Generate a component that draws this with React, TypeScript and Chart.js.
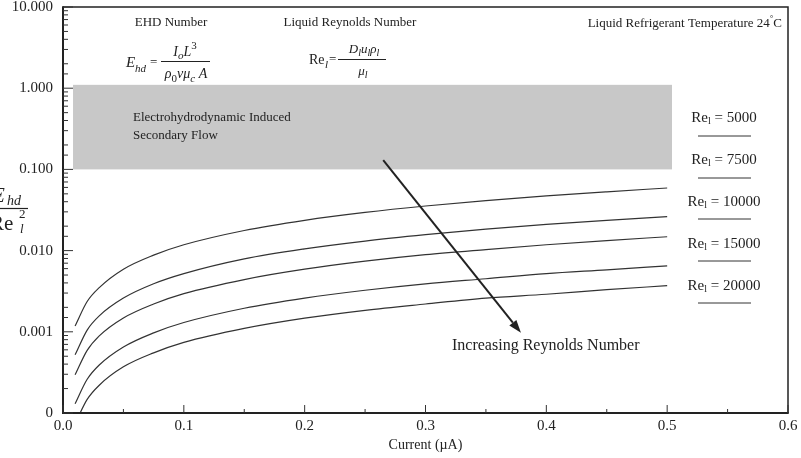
import React, { useEffect, useRef } from "react";
import { Chart, registerables } from "chart.js";

Chart.register(...registerables);

// ---- data ----
const currentUA = [0.01, 0.02, 0.03, 0.05, 0.075, 0.1, 0.15, 0.2, 0.25, 0.3, 0.35, 0.4, 0.45, 0.5];
const re5000 = [0.00118, 0.00236, 0.0035, 0.0059, 0.0088, 0.0118, 0.0177, 0.0236, 0.0295, 0.0354, 0.0413, 0.0472, 0.053, 0.059];
const re7500 = [0.00052, 0.00105, 0.00157, 0.0026, 0.0039, 0.0052, 0.0079, 0.0105, 0.0131, 0.0157, 0.0184, 0.021, 0.0236, 0.0262];
const re10000 = [0.000295, 0.00059, 0.00089, 0.00148, 0.0022, 0.00295, 0.0044, 0.0059, 0.0074, 0.0089, 0.0103, 0.0118, 0.0133, 0.0148];
const re15000 = [0.00013, 0.00026, 0.00039, 0.00065, 0.00097, 0.0013, 0.00195, 0.0026, 0.00325, 0.0039, 0.0045, 0.0052, 0.0058, 0.0065];
const re20000 = [0.000074, 0.000147, 0.00022, 0.00037, 0.00055, 0.00074, 0.0011, 0.00147, 0.00184, 0.0022, 0.0026, 0.0029, 0.0033, 0.0037];
const reynoldsLabels = ["5000", "7500", "10000", "15000", "20000"];
const seriesValues = [re5000, re7500, re10000, re15000, re20000];

const xMin = 0;
const xMax = 0.6;
const xStep = 0.1;
const yMin = 0.0001;
const yMax = 10;

// shaded EHD-induced secondary flow region (x range, y range)
const shadedX = [0.0083, 0.504];
const shadedY = [0.1, 1.1];
// arrow "Increasing Reynolds Number" (start, end)
const arrowX = [0.265, 0.379];
const arrowY = [0.13, 0.00097];

const SERIF = "'Liberation Serif', 'Times New Roman', serif";
const TEXT = "#222";

type Part = { t: string; size: number; italic?: boolean; dy?: number };

function partsWidth(ctx: CanvasRenderingContext2D, parts: Part[]) {
  let w = 0;
  for (const p of parts) {
    ctx.font = `${p.italic ? "italic " : ""}${p.size}px ${SERIF}`;
    w += ctx.measureText(p.t).width;
  }
  return w;
}

function drawParts(
  ctx: CanvasRenderingContext2D,
  x: number,
  baseline: number,
  parts: Part[],
  align: "left" | "center" | "right" = "left"
) {
  const w = partsWidth(ctx, parts);
  let cx = align === "left" ? x : align === "center" ? x - w / 2 : x - w;
  ctx.textAlign = "left";
  ctx.textBaseline = "alphabetic";
  for (const p of parts) {
    ctx.font = `${p.italic ? "italic " : ""}${p.size}px ${SERIF}`;
    ctx.fillText(p.t, cx, baseline + (p.dy || 0));
    cx += ctx.measureText(p.t).width;
  }
}

function isDecade(v: number) {
  const l = Math.log10(v);
  return Math.abs(l - Math.round(l)) < 1e-6;
}

const annotationPlugin = {
  id: "annotations",
  beforeDatasetsDraw(chart: any) {
    const { ctx, scales } = chart;
    const xs = scales.x;
    const ys = scales.y;
    ctx.save();
    ctx.fillStyle = "#c8c8c8";
    const x0 = xs.getPixelForValue(shadedX[0]);
    const x1 = xs.getPixelForValue(shadedX[1]);
    const y0 = ys.getPixelForValue(shadedY[1]);
    const y1 = ys.getPixelForValue(shadedY[0]);
    ctx.fillRect(x0, y0, x1 - x0, y1 - y0);
    ctx.fillStyle = TEXT;
    ctx.font = `13px ${SERIF}`;
    ctx.textAlign = "left";
    ctx.textBaseline = "middle";
    ctx.fillText("Electrohydrodynamic Induced", 133, 118);
    ctx.fillText("Secondary Flow", 133, 136);
    ctx.restore();
  },
  afterDatasetsDraw(chart: any) {
    const { ctx, scales, chartArea } = chart;
    const xs = scales.x;
    const ys = scales.y;
    ctx.save();

    // frame
    ctx.strokeStyle = "#222";
    ctx.lineWidth = 1.5;
    ctx.beginPath();
    ctx.moveTo(chartArea.left, chartArea.top);
    ctx.lineTo(chartArea.right, chartArea.top);
    ctx.lineTo(chartArea.right, chartArea.bottom);
    ctx.stroke();
    ctx.lineWidth = 2;
    ctx.beginPath();
    ctx.moveTo(chartArea.left, chartArea.top - 0.75);
    ctx.lineTo(chartArea.left, chartArea.bottom);
    ctx.lineTo(chartArea.right + 0.75, chartArea.bottom);
    ctx.stroke();

    // inward tick marks
    ctx.lineWidth = 1;
    ctx.strokeStyle = "#333";
    for (const t of ys.ticks) {
      const py = ys.getPixelForValue(t.value);
      const len = isDecade(t.value) ? 10 : 5;
      ctx.beginPath();
      ctx.moveTo(chartArea.left, py);
      ctx.lineTo(chartArea.left + len, py);
      ctx.stroke();
    }
    for (let v = xMin; v <= xMax + 1e-9; v += xStep / 2) {
      const px = xs.getPixelForValue(v);
      const major = Math.abs(v / xStep - Math.round(v / xStep)) < 1e-6;
      const len = major ? 8 : 4;
      ctx.beginPath();
      ctx.moveTo(px, chartArea.bottom);
      ctx.lineTo(px, chartArea.bottom - len);
      ctx.stroke();
    }

    // arrow
    const ax0 = xs.getPixelForValue(arrowX[0]);
    const ay0 = ys.getPixelForValue(arrowY[0]);
    const ax1 = xs.getPixelForValue(arrowX[1]);
    const ay1 = ys.getPixelForValue(arrowY[1]);
    const ang = Math.atan2(ay1 - ay0, ax1 - ax0);
    const head = 13;
    const hw = 4.5;
    const bx = ax1 - head * Math.cos(ang);
    const by = ay1 - head * Math.sin(ang);
    ctx.strokeStyle = "#222";
    ctx.fillStyle = "#222";
    ctx.lineWidth = 2;
    ctx.beginPath();
    ctx.moveTo(ax0, ay0);
    ctx.lineTo(bx, by);
    ctx.stroke();
    ctx.beginPath();
    ctx.moveTo(ax1, ay1);
    ctx.lineTo(bx + hw * Math.sin(ang), by - hw * Math.cos(ang));
    ctx.lineTo(bx - hw * Math.sin(ang), by + hw * Math.cos(ang));
    ctx.closePath();
    ctx.fill();

    ctx.fillStyle = TEXT;
    ctx.font = `16px ${SERIF}`;
    ctx.textAlign = "left";
    ctx.textBaseline = "middle";
    ctx.fillText("Increasing Reynolds Number", 452, 346);

    // header texts
    ctx.font = `13px ${SERIF}`;
    ctx.textAlign = "center";
    ctx.fillText("EHD Number", 171, 23);
    ctx.fillText("Liquid Reynolds Number", 350, 23);
    drawParts(
      ctx,
      782,
      27,
      [
        { t: "Liquid Refrigerant Temperature 24", size: 13 },
        { t: "°", size: 9, dy: -6 },
        { t: "C", size: 13 },
      ],
      "right"
    );

    // EHD formula
    drawParts(ctx, 126, 67, [{ t: "E", size: 15, italic: true }]);
    drawParts(ctx, 135, 72, [{ t: "hd", size: 11, italic: true }]);
    drawParts(ctx, 150, 66, [{ t: "=", size: 13 }]);
    ctx.strokeStyle = "#222";
    ctx.lineWidth = 1;
    ctx.beginPath();
    ctx.moveTo(161, 61.5);
    ctx.lineTo(210, 61.5);
    ctx.stroke();
    drawParts(
      ctx,
      185,
      56,
      [
        { t: "I", size: 14, italic: true },
        { t: "o", size: 11, italic: true, dy: 3 },
        { t: "L", size: 14, italic: true },
        { t: "3", size: 11, dy: -7 },
      ],
      "center"
    );
    drawParts(
      ctx,
      186,
      78,
      [
        { t: "ρ", size: 14, italic: true },
        { t: "0", size: 11, dy: 4 },
        { t: "ν", size: 14, italic: true },
        { t: "μ", size: 14, italic: true },
        { t: "c", size: 11, italic: true, dy: 4 },
        { t: " A", size: 14, italic: true },
      ],
      "center"
    );

    // Reynolds formula
    drawParts(ctx, 309, 64, [{ t: "Re", size: 14 }]);
    drawParts(ctx, 325, 68, [{ t: "l", size: 11, italic: true }]);
    drawParts(ctx, 329, 63, [{ t: "=", size: 13 }]);
    ctx.beginPath();
    ctx.moveTo(338, 59.5);
    ctx.lineTo(386, 59.5);
    ctx.stroke();
    drawParts(
      ctx,
      364,
      53,
      [
        { t: "D", size: 13, italic: true },
        { t: "l", size: 10, italic: true, dy: 3 },
        { t: "u", size: 13, italic: true },
        { t: "l", size: 10, italic: true, dy: 3 },
        { t: "ρ", size: 13, italic: true },
        { t: "l", size: 10, italic: true, dy: 3 },
      ],
      "center"
    );
    drawParts(
      ctx,
      363,
      75,
      [
        { t: "μ", size: 13, italic: true },
        { t: "l", size: 10, italic: true, dy: 3 },
      ],
      "center"
    );

    // y-axis title (fraction, clipped at the left edge)
    drawParts(ctx, -8, 202, [{ t: "E", size: 21, italic: true }]);
    drawParts(ctx, 7, 205, [{ t: "hd", size: 14, italic: true }]);
    ctx.lineWidth = 1.2;
    ctx.beginPath();
    ctx.moveTo(0, 208.5);
    ctx.lineTo(28, 208.5);
    ctx.stroke();
    drawParts(ctx, -10, 230, [{ t: "Re", size: 21 }]);
    drawParts(ctx, 19, 218, [{ t: "2", size: 13 }]);
    drawParts(ctx, 20, 233, [{ t: "l", size: 13, italic: true }]);

    // series key at right
    const keyY = [117, 159, 201, 243, 285];
    const keyLineY = [136, 178, 219, 261, 303];
    ctx.lineWidth = 1;
    ctx.strokeStyle = "#333";
    reynoldsLabels.forEach((r, i) => {
      drawParts(
        ctx,
        724,
        keyY[i] + 5,
        [
          { t: "Re", size: 15 },
          { t: "l", size: 10, dy: 2 },
          { t: " = " + r, size: 15 },
        ],
        "center"
      );
      ctx.beginPath();
      ctx.moveTo(698, keyLineY[i]);
      ctx.lineTo(751, keyLineY[i]);
      ctx.stroke();
    });

    ctx.restore();
  },
};

export default function App() {
  const ref = useRef<HTMLCanvasElement | null>(null);
  useEffect(() => {
    if (!ref.current) return;
    const datasets = seriesValues.map((vals, i) => ({
      label: "Re_l = " + reynoldsLabels[i],
      data: currentUA.map((x, j) => ({ x, y: vals[j] })),
      borderColor: "#333",
      borderWidth: 1.2,
      pointRadius: 0,
      fill: false,
      cubicInterpolationMode: "monotone" as const,
    }));
    const chart = new Chart(ref.current, {
      type: "line",
      data: { datasets },
      plugins: [annotationPlugin],
      options: {
        animation: false,
        responsive: false,
        layout: { padding: { top: 7, right: 13, left: 0, bottom: 0 } },
        plugins: { legend: { display: false }, tooltip: { enabled: false } },
        scales: {
          x: {
            type: "linear",
            min: xMin,
            max: xMax,
            grid: { display: false, drawTicks: false },
            border: { display: false },
            ticks: {
              stepSize: xStep,
              color: TEXT,
              padding: 4,
              font: { family: SERIF, size: 15 },
              callback: (v: any) => Number(v).toFixed(1),
            },
            title: {
              display: true,
              text: "Current (µA)",
              color: TEXT,
              font: { family: SERIF, size: 14 },
              padding: { top: 0, bottom: 4 },
            },
            afterFit: (s: any) => {
              s.height = 45;
              s.paddingLeft = 0;
              s.paddingRight = 0;
            },
          },
          y: {
            type: "logarithmic",
            min: yMin,
            max: yMax,
            grid: { display: false, drawTicks: false },
            border: { display: false },
            ticks: {
              autoSkip: false,
              color: TEXT,
              padding: 10,
              font: { family: SERIF, size: 15 },
              callback: (v: any) => {
                const n = Number(v);
                if (!isDecade(n)) return "";
                if (Math.abs(n - yMin) < 1e-12) return "0";
                return n.toFixed(3);
              },
            },
            afterFit: (s: any) => {
              s.width = 63;
              s.paddingTop = 0;
              s.paddingBottom = 0;
            },
          },
        },
      },
    });
    return () => chart.destroy();
  }, []);
  return (
    <div style={{ position: "absolute", left: 0, top: 0, width: 801, height: 458, background: "#fff" }}>
      <canvas ref={ref} width={801} height={458} style={{ display: "block" }} />
    </div>
  );
}
